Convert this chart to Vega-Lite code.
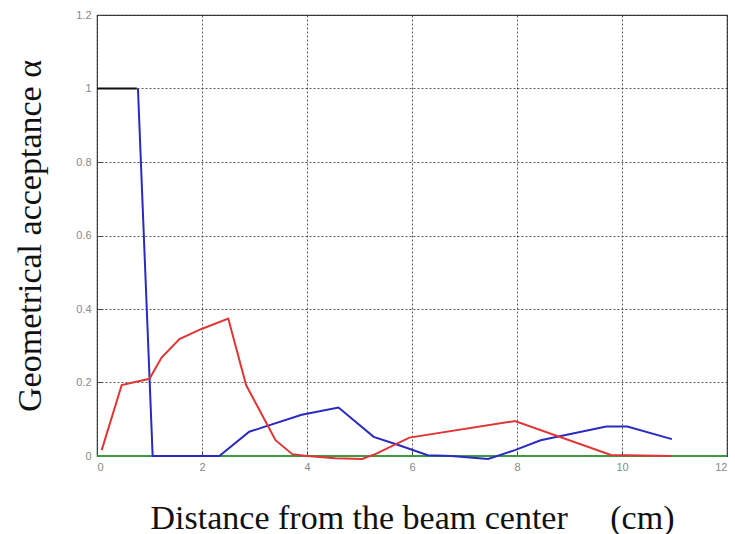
{
  "$schema": "https://vega.github.io/schema/vega-lite/v6.json",
  "autosize": "none",
  "width": 630,
  "height": 441,
  "padding": {"left": 97, "top": 15, "right": 8, "bottom": 78},
  "background": "white",
  "config": {
    "view": {"stroke": "#444", "strokeWidth": 1.2},
    "axis": {
      "grid": true,
      "gridColor": "#222",
      "gridDash": [2, 2],
      "gridOpacity": 0.75,
      "domain": false,
      "tickColor": "#444",
      "tickSize": -5,
      "labelColor": "#888",
      "labelFont": "Liberation Sans",
      "labelFontSize": 11,
      "titleFont": "Liberation Serif",
      "titleFontWeight": "normal",
      "titleFontSize": 34,
      "titleColor": "#111"
    }
  },
  "data": {
    "values": [
      {"s": "green", "x": 0, "y": 0},
      {"s": "green", "x": 12, "y": 0},
      {"s": "black", "x": 0, "y": 1},
      {"s": "black", "x": 0.76, "y": 1},
      {"s": "blue", "x": 0.78, "y": 1.0},
      {"s": "blue", "x": 1.06, "y": 0},
      {"s": "blue", "x": 2.33, "y": 0},
      {"s": "blue", "x": 2.9, "y": 0.066},
      {"s": "blue", "x": 3.2, "y": 0.08},
      {"s": "blue", "x": 3.9, "y": 0.112},
      {"s": "blue", "x": 4.6, "y": 0.132},
      {"s": "blue", "x": 5.27, "y": 0.052},
      {"s": "blue", "x": 5.74, "y": 0.03},
      {"s": "blue", "x": 6.3, "y": 0.002},
      {"s": "blue", "x": 6.75, "y": 0.0},
      {"s": "blue", "x": 7.45, "y": -0.008},
      {"s": "blue", "x": 7.96, "y": 0.016},
      {"s": "blue", "x": 8.45, "y": 0.043},
      {"s": "blue", "x": 9.7, "y": 0.08},
      {"s": "blue", "x": 10.1, "y": 0.08},
      {"s": "blue", "x": 10.95, "y": 0.046},
      {"s": "red", "x": 0.09, "y": 0.016},
      {"s": "red", "x": 0.47, "y": 0.193},
      {"s": "red", "x": 1.0, "y": 0.21},
      {"s": "red", "x": 1.23, "y": 0.268},
      {"s": "red", "x": 1.57, "y": 0.318},
      {"s": "red", "x": 1.98, "y": 0.345},
      {"s": "red", "x": 2.5, "y": 0.374},
      {"s": "red", "x": 2.84, "y": 0.193},
      {"s": "red", "x": 3.4, "y": 0.043},
      {"s": "red", "x": 3.72, "y": 0.005},
      {"s": "red", "x": 4.0, "y": 0.0},
      {"s": "red", "x": 4.54, "y": -0.006},
      {"s": "red", "x": 5.05, "y": -0.008},
      {"s": "red", "x": 5.3, "y": 0.005},
      {"s": "red", "x": 5.95, "y": 0.05},
      {"s": "red", "x": 7.96, "y": 0.095},
      {"s": "red", "x": 9.79, "y": 0.003},
      {"s": "red", "x": 10.95, "y": 0.0}
    ]
  },
  "mark": {"type": "line", "strokeWidth": 2, "clip": false},
  "encoding": {
    "x": {
      "field": "x", "type": "quantitative",
      "scale": {"domain": [0, 12], "nice": false},
      "axis": {"values": [0, 2, 4, 6, 8, 10, 12], "format": "~g", "title": "Distance from the beam center\u00a0\u00a0\u00a0\u00a0\u00a0(cm)", "titleY": 72, "titleBaseline": "alphabetic", "labelPadding": 10}
    },
    "y": {
      "field": "y", "type": "quantitative",
      "scale": {"domain": [0, 1.2], "nice": false},
      "axis": {"values": [0, 0.2, 0.4, 0.6, 0.8, 1, 1.2], "format": "~g", "title": "Geometrical acceptance  α", "titleX": -57, "titleBaseline": "alphabetic", "labelPadding": 11}
    },
    "color": {
      "field": "s", "type": "nominal",
      "scale": {"domain": ["green", "black", "red", "blue"], "range": ["#3c9c3c", "#111111", "#e03535", "#2a2ac0"]},
      "legend": null
    },
    "order": {"field": "x", "type": "quantitative"}
  }
}
